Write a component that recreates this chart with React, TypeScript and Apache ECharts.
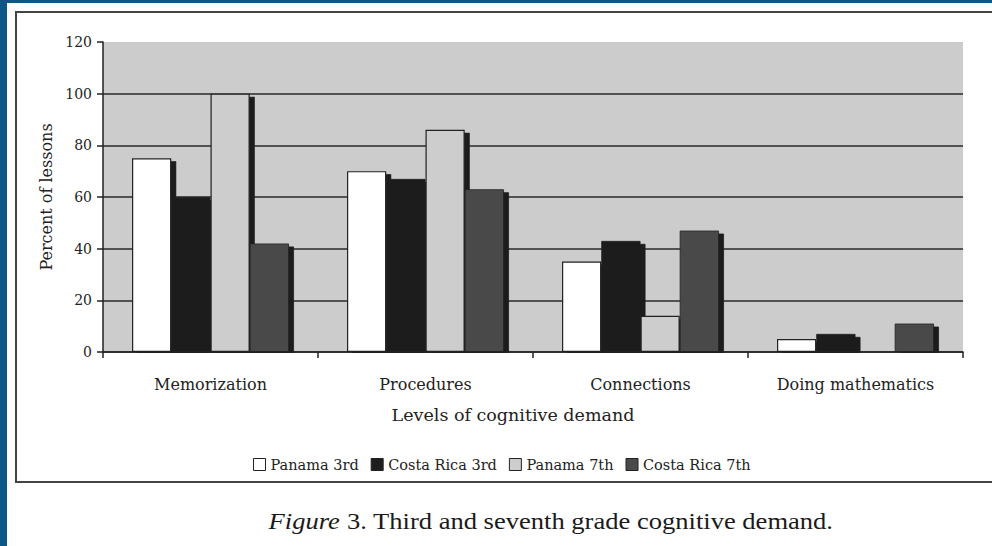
import React, { useEffect, useRef } from "react";
import * as echarts from "echarts";

const categories = ["Memorization", "Procedures", "Connections", "Doing mathematics"];
const seriesNames = ["Panama 3rd", "Costa Rica 3rd", "Panama 7th", "Costa Rica 7th"];
const panama3rd = [75, 70, 35, 5];
const costaRica3rd = [60, 67, 43, 7];
const panama7th = [100, 86, 14, 0];
const costaRica7th = [42, 63, 47, 11];
const yTicks = [0, 20, 40, 60, 80, 100, 120];

const seriesColors = ["#ffffff", "#1e1e1e", "#cdcdcd", "#4a4a4a"];
const FONT = "DejaVu Serif";

export default function App() {
  const ref = useRef<HTMLDivElement>(null);
  useEffect(() => {
    const chart = echarts.init(ref.current!, null, { renderer: "svg" });
    const data = [panama3rd, costaRica3rd, panama7th, costaRica7th];
    chart.setOption({
      animation: false,
      backgroundColor: "#ffffff",
      grid: { left: 103, right: 29, top: 42, bottom: 194, show: true, backgroundColor: "#cccccc", borderWidth: 0 },
      legend: {
        left: 248,
        top: 452,
        itemWidth: 12,
        itemHeight: 12,
        itemGap: 12,
        icon: "rect",
        data: seriesNames,
        textStyle: { fontFamily: FONT, fontSize: 14.5, color: "#222" },
        itemStyle: { shadowColor: "rgba(0,0,0,0)", shadowBlur: 0, shadowOffsetX: 0, shadowOffsetY: 0, borderColor: "#222", borderWidth: 1 },
      },
      xAxis: {
        type: "category",
        data: categories,
        z: 5,
        axisLine: { lineStyle: { color: "#222", width: 1.5 } },
        axisTick: { show: true, length: 6, alignWithLabel: false, lineStyle: { color: "#222", width: 1.5 } },
        axisLabel: { fontFamily: FONT, fontSize: 16, color: "#222", margin: 24 },
      },
      yAxis: {
        type: "value",
        min: yTicks[0],
        max: yTicks[yTicks.length - 1],
        interval: 20,
        axisLine: { show: true, lineStyle: { color: "#222", width: 1.5 } },
        axisTick: { show: true, length: 6, lineStyle: { color: "#222", width: 1.5 } },
        axisLabel: { fontFamily: FONT, fontSize: 14, color: "#222", margin: 11 },
        splitLine: {
          show: true,
          showMaxLine: false,
          lineStyle: { color: "#2a2a2a", width: 1.5 },
        },
        name: "Percent of lessons",
        nameLocation: "middle",
        nameGap: 48,
        nameRotate: 90,
        nameTextStyle: { fontFamily: FONT, fontSize: 16, color: "#222" },
      },
      series: data.map((d, i) => ({
        type: "bar",
        name: seriesNames[i],
        data: d,
        barGap: "0%",
        barCategoryGap: "27%",
        itemStyle: {
          color: seriesColors[i],
          borderColor: "#222",
          borderWidth: i === 0 || i === 2 ? 1.2 : 0.8,
          shadowColor: "#1a1a1a",
          shadowBlur: 0,
          shadowOffsetX: 5,
          shadowOffsetY: 3,
        },
      })),
      graphic: [
        { type: "rect", z: -10, shape: { x: 0, y: 0, width: 7, height: 546 }, style: { fill: "#0b5886" } },
        { type: "rect", z: -10, shape: { x: 0, y: 0, width: 992, height: 3 }, style: { fill: "#0b5886" } },
        { type: "rect", z: 1, shape: { x: 104, y: 40, width: 870, height: 2 }, style: { fill: "#ffffff" }, silent: true },
        { type: "rect", z: 1, shape: { x: 104, y: 42, width: 859, height: 1.5 }, style: { fill: "#cccccc" }, silent: true },
        { type: "rect", z: 3, shape: { x: 104, y: 353, width: 870, height: 4 }, style: { fill: "#ffffff" }, silent: true },
        {
          type: "polyline",
          z: 101,
          shape: { points: [[1000, 12], [16, 12], [16, 482], [1000, 482]] },
          style: { fill: "none", stroke: "#444", lineWidth: 2 },
        },
        { type: "rect", z: 101, shape: { x: 0, y: 0, width: 7, height: 546 }, style: { fill: "#0b5886" } },
        { type: "rect", z: 101, shape: { x: 0, y: 0, width: 992, height: 3 }, style: { fill: "#0b5886" } },
        {
          type: "text",
          z: 102,
          style: {
            x: 513,
            y: 415,
            text: "Levels of cognitive demand",
            fontFamily: FONT,
            fontSize: 17.5,
            fill: "#222",
            align: "center",
            verticalAlign: "middle",
          },
        },
        {
          type: "text",
          z: 102,
          x: 551,
          y: 521,
          scaleX: 1.155,
          style: {
            x: 0,
            y: 0,
            text: "{i|Figure}{n| 3. Third and seventh grade cognitive demand.}",
            rich: {
              i: { fontFamily: "Liberation Serif", fontStyle: "italic", fontSize: 23, fill: "#1a1a1a" },
              n: { fontFamily: "Liberation Serif", fontSize: 23, fill: "#1a1a1a" },
            },
            fontFamily: "Liberation Serif",
            fontSize: 23,
            fill: "#1a1a1a",
            align: "center",
            verticalAlign: "middle",
          },
        },
      ],
    });
    return () => chart.dispose();
  }, []);
  return <div ref={ref} style={{ position: "absolute", left: 0, top: 0, width: 992, height: 546 }} />;
}
